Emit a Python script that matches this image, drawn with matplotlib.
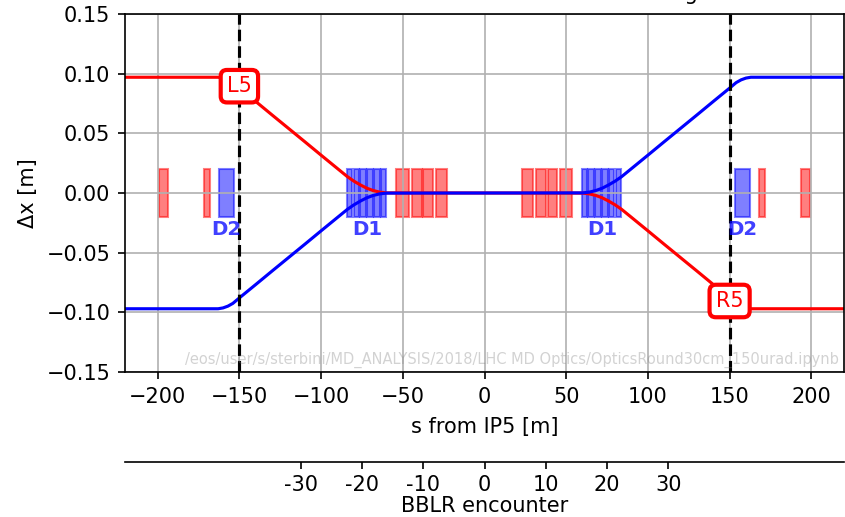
# Crossing orbit around IP5: beam offsets, magnets and BBLR encounters

import numpy as np
import matplotlib
matplotlib.use("Agg")
import matplotlib.pyplot as plt

# Orbit (s in m, x in m)
S = [-220, -163, -160, -157, -154, -150, -140, -130, -120, -110, -100, -90,
     -84, -80, -76, -72, -68, -64, -60, 0, 60, 64, 68, 72, 76, 80, 84,
     90, 100, 110, 120, 130, 140, 150, 154, 157, 160, 163, 220]
BEAM1_X = [0.097, 0.097, 0.0963, 0.0948, 0.0925, 0.0879, 0.0767, 0.0654,
           0.0542, 0.0430, 0.0317, 0.0205, 0.0138, 0.0100, 0.0068, 0.0040,
           0.0020, 0.0007, 0.0001, 0.0, -0.0001, -0.0007, -0.0020, -0.0040,
           -0.0068, -0.0100, -0.0138, -0.0205, -0.0317, -0.0430, -0.0542,
           -0.0654, -0.0767, -0.0879, -0.0925, -0.0948, -0.0963, -0.097, -0.097]
BEAM2_X = [-0.097, -0.097, -0.0963, -0.0948, -0.0925, -0.0879, -0.0767, -0.0654,
           -0.0542, -0.0430, -0.0317, -0.0205, -0.0138, -0.0100, -0.0068, -0.0040,
           -0.0020, -0.0007, -0.0001, 0.0, 0.0001, 0.0007, 0.0020, 0.0040,
           0.0068, 0.0100, 0.0138, 0.0205, 0.0317, 0.0430, 0.0542,
           0.0654, 0.0767, 0.0879, 0.0925, 0.0948, 0.0963, 0.097, 0.097]

# Quadrupoles (red) and dipoles (blue), start / end positions
QUAD_START = [-199.2, -171.7, -54.0, -44.2, -37.7, -29.5, 22.8, 31.6, 38.7, 46.5, 167.8, 193.9]
QUAD_END = [-193.9, -167.8, -46.3, -38.1, -31.6, -23.0, 29.5, 37.7, 44.2, 53.6, 171.7, 199.2]
DIP_START = [-162.7, -84.2, -80.1, -75.9, -71.8, -67.6, -63.5,
             59.5, 63.6, 67.8, 71.9, 76.1, 80.2, 153.1]
DIP_END = [-153.2, -80.8, -76.7, -72.5, -68.4, -64.2, -60.1,
           62.9, 67.0, 71.2, 75.3, 79.5, 83.6, 162.6]
DIP_LABELS = ["D2", "D1", "D1", "D2"]
DIP_LABEL_S = [-158, -72, 72, 158]

# IP markers
IP_S = [-150, 150]
IP_X = [0.0895, -0.0905]
IP_LABELS = ["L5", "R5"]

BBLR_TICKS = [-30, -20, -10, 0, 10, 20, 30]
BBLR_LABELS = ["-30", "-20", "-10", "0", "10", "20", "30"]

WATERMARK = "/eos/user/s/sterbini/MD_ANALYSIS/2018/LHC MD Optics/OpticsRound30cm_150urad.ipynb"

dpi = 150
fig = plt.figure(figsize=(845 / dpi, 517 / dpi), dpi=dpi)
ax = fig.add_axes([125 / 845, 145 / 517, 719 / 845, 358 / 517])

# magnets
ax.bar(QUAD_START, 0.04, width=np.subtract(QUAD_END, QUAD_START), bottom=-0.02,
       align="edge", color="r", edgecolor="r", alpha=0.5)
ax.bar(DIP_START, 0.04, width=np.subtract(DIP_END, DIP_START), bottom=-0.02,
       align="edge", color="b", edgecolor="b", alpha=0.5)

for label, s in zip(DIP_LABELS, DIP_LABEL_S):
    ax.text(s, -0.0225, label, color="b", alpha=0.75, fontsize=9.5,
            fontweight="bold", ha="center", va="top")

# orbits
ax.plot(S, BEAM1_X, color="r", lw=1.5)
ax.plot(S, BEAM2_X, color="b", lw=1.5)

for s in IP_S:
    ax.axvline(s, color="k", ls="--", lw=1.5)

for label, s, x in zip(IP_LABELS, IP_S, IP_X):
    ax.text(s, x, label, color="r", fontsize=10, ha="center", va="center",
            zorder=5,
            bbox=dict(boxstyle="round", fc="w", ec="r", lw=2))

ax.set_xlim(-220, 220)
ax.set_ylim(-0.15, 0.15)
ax.set_yticks([-0.15, -0.10, -0.05, 0.0, 0.05, 0.10, 0.15])
ax.yaxis.set_major_formatter(
    matplotlib.ticker.FuncFormatter(lambda v, p: f"{v:.2f}".replace("-", "\u2212")))
ax.grid(True)
ax.set_xlabel("s from IP5 [m]", labelpad=5)
ax.set_ylabel("\u0394x [m]")

ax.text(0.993, 0.012, WATERMARK, transform=ax.transAxes, ha="right",
        va="bottom", fontsize=7, color="gray", alpha=0.35)

# BBLR encounter axis (3.75 m spacing)
sec = ax.secondary_xaxis(-0.2514, functions=(lambda s: s / 3.75, lambda n: n * 3.75))
sec.set_xticks(BBLR_TICKS)
sec.set_xticklabels(BBLR_LABELS)
sec.tick_params(pad=2.5)
sec.set_xlabel("BBLR encounter", labelpad=0.5)

# title sits above the top edge, only its descender shows
fig.text(698 / 845, 1.0, "IP5 crossing", ha="right", va="baseline")

fig.savefig("out.png", dpi=dpi)
